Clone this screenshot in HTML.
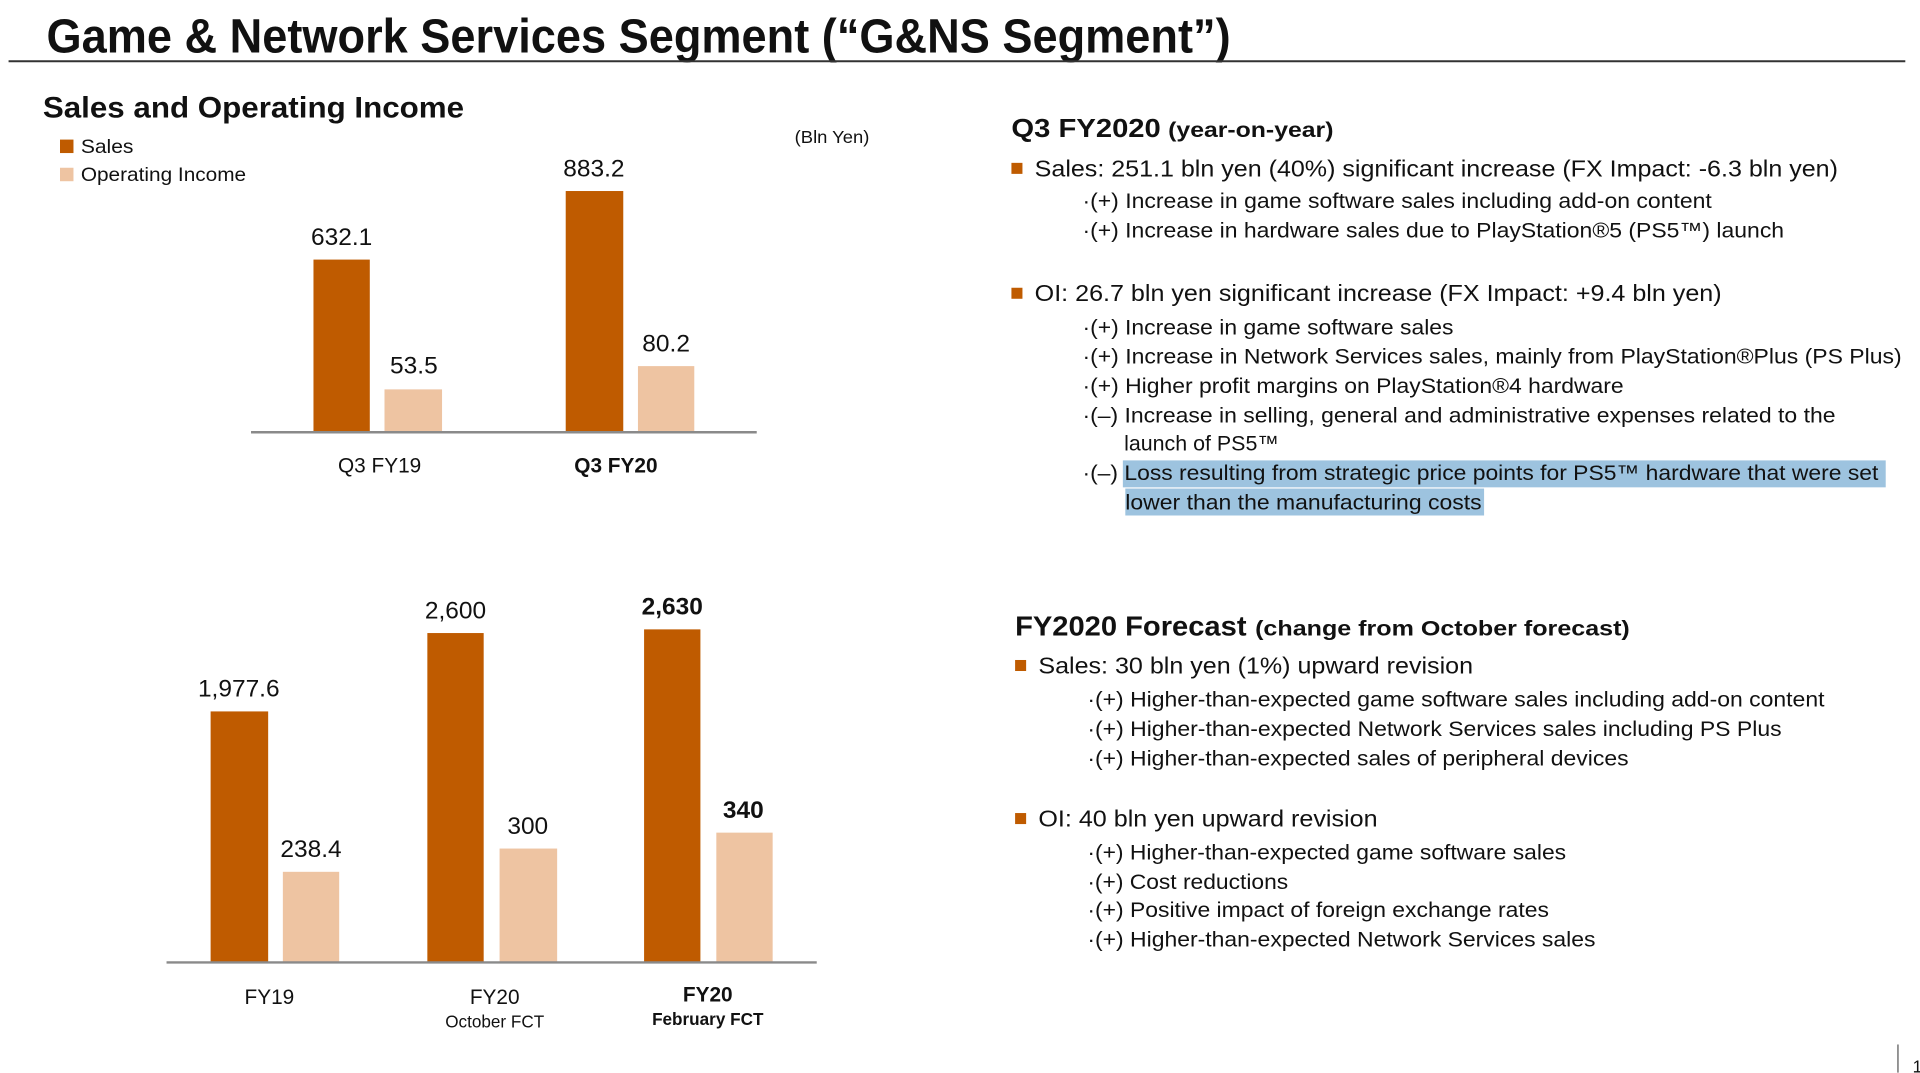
<!DOCTYPE html>
<html><head><meta charset="utf-8"><style>html,body{margin:0;padding:0;background:#fff;overflow:hidden}svg{display:block}</style></head>
<body>
<svg width="1920" height="1073" viewBox="0 0 1568 876.3" preserveAspectRatio="none" xmlns="http://www.w3.org/2000/svg" font-family="Liberation Sans, Arial, sans-serif" fill="#111">
<text x="38" y="43" font-size="39" font-weight="bold" textLength="967" lengthAdjust="spacingAndGlyphs">Game &amp; Network Services Segment (“G&amp;NS Segment”)</text>
<line x1="7" y1="50" x2="1556" y2="50" stroke="#333" stroke-width="1.6"/>
<text x="35" y="96" font-size="24" font-weight="bold" textLength="344" lengthAdjust="spacingAndGlyphs">Sales and Operating Income</text>
<rect x="49" y="114" width="11" height="11" fill="#BF5B00"/>
<text x="66" y="125" font-size="16" textLength="43" lengthAdjust="spacingAndGlyphs">Sales</text>
<rect x="49" y="137" width="11" height="11" fill="#EEC4A2"/>
<text x="66" y="148" font-size="16" textLength="135" lengthAdjust="spacingAndGlyphs">Operating Income</text>
<text x="649" y="117" font-size="14" textLength="61" lengthAdjust="spacingAndGlyphs">(Bln Yen)</text>
<!-- chart 1 -->
<rect x="256" y="212" width="46" height="141" fill="#BF5B00"/>
<rect x="314" y="318" width="47" height="35" fill="#EEC4A2"/>
<rect x="462" y="156" width="47" height="197" fill="#BF5B00"/>
<rect x="521" y="299" width="46" height="54" fill="#EEC4A2"/>
<line x1="205" y1="353" x2="618" y2="353" stroke="#8a8a8a" stroke-width="2"/>
<g font-size="20" text-anchor="middle">
<text x="279" y="200">632.1</text><text x="338" y="305">53.5</text>
<text x="485" y="144">883.2</text><text x="544" y="287">80.2</text>
</g>
<text x="310" y="386" font-size="17" text-anchor="middle">Q3 FY19</text>
<text x="503" y="386" font-size="17" font-weight="bold" text-anchor="middle">Q3 FY20</text>
<!-- chart 2 -->
<rect x="172" y="581" width="47" height="205" fill="#BF5B00"/>
<rect x="231" y="712" width="46" height="74" fill="#EEC4A2"/>
<rect x="349" y="517" width="46" height="269" fill="#BF5B00"/>
<rect x="408" y="693" width="47" height="93" fill="#EEC4A2"/>
<rect x="526" y="514" width="46" height="272" fill="#BF5B00"/>
<rect x="585" y="680" width="46" height="106" fill="#EEC4A2"/>
<line x1="136" y1="786" x2="667" y2="786" stroke="#8a8a8a" stroke-width="2"/>
<g font-size="20" text-anchor="middle">
<text x="195" y="569">1,977.6</text><text x="254" y="700">238.4</text>
<text x="372" y="505">2,600</text><text x="431" y="681">300</text>
<text x="549" y="502" font-weight="bold">2,630</text><text x="607" y="668" font-weight="bold">340</text>
</g>
<g text-anchor="middle">
<text x="220" y="820" font-size="17">FY19</text>
<text x="404" y="820" font-size="17">FY20</text>
<text x="404" y="839" font-size="14">October FCT</text>
<text x="578" y="818" font-size="17" font-weight="bold">FY20</text>
<text x="578" y="837" font-size="14" font-weight="bold">February FCT</text>
</g>
<!-- right -->
<text x="826" y="112" font-size="21" font-weight="bold" textLength="122" lengthAdjust="spacingAndGlyphs">Q3 FY2020</text>
<text x="954" y="112" font-size="17" font-weight="bold" textLength="135" lengthAdjust="spacingAndGlyphs">(year-on-year)</text>
<rect x="826" y="133" width="9" height="9" fill="#BF5B00"/>
<text x="845" y="144" font-size="19" textLength="656" lengthAdjust="spacingAndGlyphs">Sales: 251.1 bln yen (40%) significant increase (FX Impact: -6.3 bln yen)</text>
<g font-size="17.5">
<text x="884" y="170" textLength="514" lengthAdjust="spacingAndGlyphs">·(+) Increase in game software sales including add-on content</text>
<text x="884" y="194" textLength="573" lengthAdjust="spacingAndGlyphs">·(+) Increase in hardware sales due to PlayStation®5 (PS5™) launch</text>
</g>
<rect x="826" y="235" width="9" height="9" fill="#BF5B00"/>
<text x="845" y="246" font-size="19" textLength="561" lengthAdjust="spacingAndGlyphs">OI: 26.7 bln yen significant increase (FX Impact: +9.4 bln yen)</text>
<rect x="917" y="376" width="623" height="22" fill="#9DC3DF"/>
<rect x="919" y="399" width="293" height="22" fill="#9DC3DF"/>
<g font-size="17.5">
<text x="884" y="273" textLength="303" lengthAdjust="spacingAndGlyphs">·(+) Increase in game software sales</text>
<text x="884" y="297" textLength="669" lengthAdjust="spacingAndGlyphs">·(+) Increase in Network Services sales, mainly from PlayStation®Plus (PS Plus)</text>
<text x="884" y="321" textLength="442" lengthAdjust="spacingAndGlyphs">·(+) Higher profit margins on PlayStation®4 hardware</text>
<text x="884" y="345" textLength="615" lengthAdjust="spacingAndGlyphs">·(–) Increase in selling, general and administrative expenses related to the</text>
<text x="918" y="368">launch of PS5™</text>
<text x="884" y="392" textLength="650" lengthAdjust="spacingAndGlyphs">·(–) Loss resulting from strategic price points for PS5™ hardware that were set</text>
<text x="919" y="416" textLength="291" lengthAdjust="spacingAndGlyphs">lower than the manufacturing costs</text>
</g>
<text x="829" y="519" font-size="23" font-weight="bold" textLength="189" lengthAdjust="spacingAndGlyphs">FY2020 Forecast</text>
<text x="1025" y="519" font-size="17" font-weight="bold" textLength="306" lengthAdjust="spacingAndGlyphs">(change from October forecast)</text>
<rect x="829" y="539" width="9" height="9" fill="#BF5B00"/>
<text x="848" y="550" font-size="19" textLength="355" lengthAdjust="spacingAndGlyphs">Sales: 30 bln yen (1%) upward revision</text>
<g font-size="17.5">
<text x="888" y="577" textLength="602" lengthAdjust="spacingAndGlyphs">·(+) Higher-than-expected game software sales including add-on content</text>
<text x="888" y="601" textLength="567" lengthAdjust="spacingAndGlyphs">·(+) Higher-than-expected Network Services sales including PS Plus</text>
<text x="888" y="625" textLength="442" lengthAdjust="spacingAndGlyphs">·(+) Higher-than-expected sales of peripheral devices</text>
</g>
<rect x="829" y="664" width="9" height="9" fill="#BF5B00"/>
<text x="848" y="675" font-size="19" textLength="277" lengthAdjust="spacingAndGlyphs">OI: 40 bln yen upward revision</text>
<g font-size="17.5">
<text x="888" y="702" textLength="391" lengthAdjust="spacingAndGlyphs">·(+) Higher-than-expected game software sales</text>
<text x="888" y="726" textLength="164" lengthAdjust="spacingAndGlyphs">·(+) Cost reductions</text>
<text x="888" y="749" textLength="377" lengthAdjust="spacingAndGlyphs">·(+) Positive impact of foreign exchange rates</text>
<text x="888" y="773" textLength="415" lengthAdjust="spacingAndGlyphs">·(+) Higher-than-expected Network Services sales</text>
</g>
<line x1="1550" y1="853" x2="1550" y2="876" stroke="#555" stroke-width="1"/>
<text x="1562" y="876" font-size="14">1</text>
</svg>
</body></html>
